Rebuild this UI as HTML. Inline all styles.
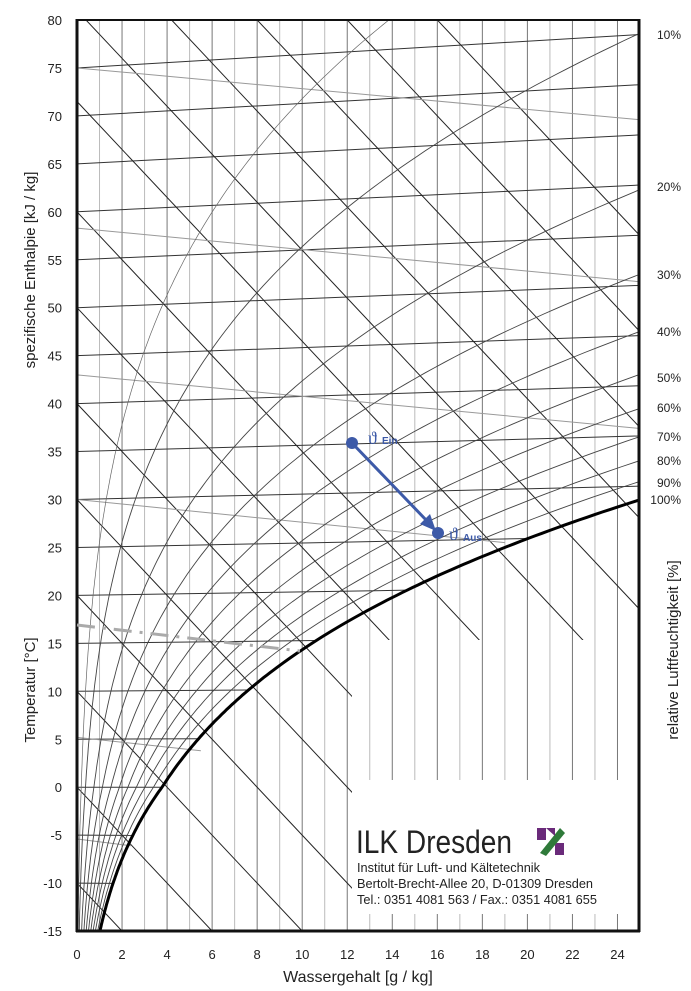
<!DOCTYPE html>
<html><head><meta charset="utf-8">
<style>
html,body{margin:0;padding:0;background:#fff;overflow:hidden;width:691px;height:991px;}
svg{display:block;font-family:"Liberation Sans",Arial,sans-serif;}
</style></head>
<body>
<svg id="s" width="691" height="991" viewBox="0 0 691 991" xmlns="http://www.w3.org/2000/svg">
<defs>
<clipPath id="cp"><polygon points="77,20 640,20 640,640 352,640 352,931 77,931"/></clipPath>
<clipPath id="cp2"><rect x="77" y="20" width="563" height="911"/></clipPath>
</defs>
<g id="grid"></g>
<g id="lines" clip-path="url(#cp)"></g>
<g id="sat" clip-path="url(#cp2)"></g>
<line x1="77" y1="20" x2="640" y2="20" stroke="#111" stroke-width="2"/>
<line x1="77" y1="19" x2="77" y2="932" stroke="#111" stroke-width="3"/>
<line x1="639" y1="19" x2="639" y2="932" stroke="#111" stroke-width="3"/>
<line x1="76" y1="931" x2="640" y2="931" stroke="#111" stroke-width="3"/>
<line x1="77" y1="625" x2="300" y2="651" stroke="#aaa" stroke-width="3" stroke-dasharray="18,8,3,8"/>
<g id="labels" font-size="13" fill="#222"></g>
<text transform="translate(35,270) rotate(-90)" text-anchor="middle" font-size="15" fill="#222">spezifische Enthalpie [kJ / kg]</text>
<text transform="translate(35,690) rotate(-90)" text-anchor="middle" font-size="15" fill="#222">Temperatur [°C]</text>
<text transform="translate(678,650) rotate(-90)" text-anchor="middle" font-size="15" fill="#222">relative Luftfeuchtigkeit [%]</text>
<text x="358" y="982" text-anchor="middle" font-size="16" fill="#222">Wassergehalt [g / kg]</text>
<text x="356" y="853" font-size="32" fill="#222" textLength="156" lengthAdjust="spacingAndGlyphs">ILK Dresden</text>
<text x="357" y="872" font-size="13" fill="#222" textLength="183" lengthAdjust="spacingAndGlyphs">Institut für Luft- und Kältetechnik</text>
<text x="357" y="888" font-size="13" fill="#222" textLength="236" lengthAdjust="spacingAndGlyphs">Bertolt-Brecht-Allee 20, D-01309 Dresden</text>
<text x="357" y="904" font-size="13" fill="#222" textLength="240" lengthAdjust="spacingAndGlyphs">Tel.: 0351 4081 563 / Fax.: 0351 4081 655</text>
<rect x="537" y="828" width="9" height="12" fill="#6a2a7a"/>
<rect x="555" y="843" width="9" height="12" fill="#6a2a7a"/>
<polygon points="540,853 560,828 565,833 546,856" fill="#2f7a3a"/>
<polygon points="546,828 555,828 555,836" fill="#6a2a7a"/>
<g fill="#3d5aa8" stroke="#3d5aa8">
<line x1="352" y1="443" x2="428" y2="522" stroke-width="3"/>
<polygon points="436,531 420,524 430,514" stroke="none"/>
<circle cx="352" cy="443" r="6" stroke="none"/>
<circle cx="438" cy="533" r="6" stroke="none"/>
<text x="368" y="444" font-size="18" stroke="none" font-family="Liberation Serif,serif">ϑ</text>
<text x="382" y="444" font-size="10" font-weight="bold" stroke="none">Ein</text>
<text x="449" y="540" font-size="18" stroke="none" font-family="Liberation Serif,serif">ϑ</text>
<text x="463" y="541" font-size="10" font-weight="bold" stroke="none">Aus</text>
</g>
</svg>
<script>
(function(){
var NS="http://www.w3.org/2000/svg";
function px(x){return 77+x*22.52;}
function py(Y){return 20+(80-Y)*9.59;}
function el(g,tag,a){var e=document.createElementNS(NS,tag);for(var k in a)e.setAttribute(k,a[k]);document.getElementById(g).appendChild(e);return e;}
function line(g,x1,y1,x2,y2,c,w){el(g,"line",{x1:x1,y1:y1,x2:x2,y2:y2,stroke:c,"stroke-width":w});}
for(var i=1;i<25;i++){
  var X=px(i),c=(i%2==0)?"#777":"#bbb";
  var yb=(i<=12)?931:780;
  line("grid",X,20,X,yb,c,1);
  if(i>12) line("grid",X,914,X,931,c,1);
}
function ps(T){return T>=0?611.2*Math.exp(17.62*T/(243.12+T)):611.2*Math.exp(22.46*T/(272.62+T));}
function xs(T,phi){var p=phi*ps(T);return 622*p/(101325-p);}
function Yof(T,x){return T+0.00186*T*x;}
for(var T=-15;T<=80;T+=5){
  var xe=Math.min(25,xs(T,1));
  line("lines",px(0),py(T),px(xe),py(Yof(T,xe)),"#333",1);
}
var hs=[-10,0,10,20,30,40,50,60,71.5,81,90.5,100,110,120];
hs.forEach(function(h){
  line("lines",px(0),py(h),px(60),py(h-150),"#222",1);
});
[[0,75,25,69.6],[0,58.3,25,52.7],[0,43,25,37.4],[0,30,19,25.5],[0,5.2,5.5,3.8],[0,-5.4,2.4,-6.1]].forEach(function(a){
  line("lines",px(a[0]),py(a[1]),px(a[2]),py(a[3]),"#999",1);
});
for(var k=1;k<=9;k++){
  var phi=k/10,pts=[];
  for(var T=-15;T<=95;T+=0.5){var x=xs(T,phi);if(x>40)break;pts.push(px(x).toFixed(1)+","+py(Yof(T,x)).toFixed(1));}
  el("lines","polyline",{points:pts.join(" "),fill:"none",stroke:"#444","stroke-width":0.9});
}
[0.05].forEach(function(phi){
  var pts=[];
  for(var T=-15;T<=95;T+=0.5){var x=xs(T,phi);if(x>40)break;pts.push(px(x).toFixed(1)+","+py(Yof(T,x)).toFixed(1));}
  el("lines","polyline",{points:pts.join(" "),fill:"none",stroke:"#666","stroke-width":0.7});
});
var pts=[];
for(var T=-15;T<=35;T+=0.25){var x=xs(T,1);if(x>27)break;pts.push(px(x).toFixed(1)+","+py(Yof(T,x)).toFixed(1));}
el("sat","polyline",{points:pts.join(" "),fill:"none",stroke:"#000","stroke-width":3});
for(var v=80;v>=-15;v-=5){var t=el("labels","text",{x:62,y:py(v)+5,"text-anchor":"end"});t.textContent=v;}
for(var v=0;v<=24;v+=2){var t=el("labels","text",{x:px(v),y:959,"text-anchor":"middle"});t.textContent=v;}
[["10%",39],["20%",191],["30%",279],["40%",336],["50%",382],["60%",412],["70%",441],["80%",465],["90%",487],["100%",504]].forEach(function(a){
  var t=el("labels","text",{x:681,y:a[1],"text-anchor":"end","font-size":12});t.textContent=a[0];
});
})();
</script>
</body></html>
